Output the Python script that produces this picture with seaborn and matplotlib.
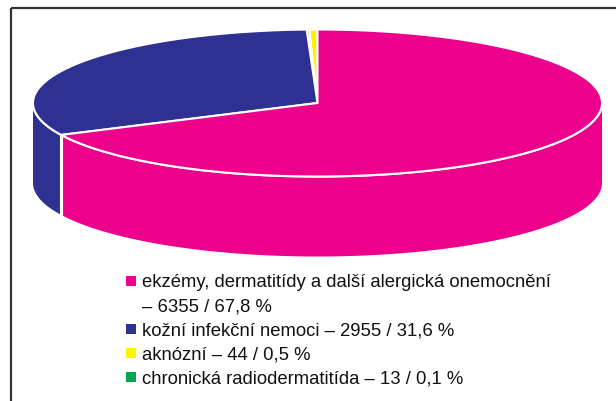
import numpy as np
import matplotlib
matplotlib.use("Agg")
import matplotlib.pyplot as plt
import seaborn as sns
from matplotlib.patches import Polygon

# data
categories = ["ekzémy, dermatitídy a další alergická onemocnění",
              "kožní infekční nemoci",
              "aknózní",
              "chronická radiodermatitída"]
counts = [6355, 2955, 44, 13]
percents = ["67,8", "31,6", "0,5", "0,1"]
colors = ["#EC008C", "#2E3192", "#FFF200", "#00A651"]
# clockwise drawing order of slices starting at 12 o'clock
draw_order = [0, 1, 3, 2]

sns.set_theme(style="white")
plt.rcParams["font.family"] = ["Liberation Sans", "DejaVu Sans"]
pal = sns.color_palette(colors)

W, H = 616, 401
fig = plt.figure(figsize=(W / 100, H / 100), dpi=100)
ax = fig.add_axes([0, 0, 1, 1])
ax.set_xlim(0, W)
ax.set_ylim(H, 0)
ax.axis("off")

# pie geometry (pixels)
cx, cy = 317.5, 103
a, b = 284.5, 73.5
depth = 80


def pt(t, dy=0.0):
    t = np.radians(t)
    return cx + a * np.cos(t), cy - b * np.sin(t) + dy


total = float(sum(counts))
# angles counterclockwise from 90 deg: reverse of the clockwise order
ccw = draw_order[::-1]
spans = {}
start = 90.0
for i in ccw:
    ext = counts[i] / total * 360
    spans[i] = (start, start + ext)
    start += ext

# side walls (front half only: 180..360)
for i in ccw:
    s, e = spans[i]
    for off in (0, 360):
        ws, we = max(s, 180 + off), min(e, 360 + off)
        if we <= ws:
            continue
        ts = np.linspace(ws, we, 200)
        top = [pt(t) for t in ts]
        bot = [pt(t, depth) for t in ts[::-1]]
        ax.add_patch(Polygon(top + bot, closed=True, facecolor=pal[i],
                             edgecolor="none", zorder=1))
        # vertical seams
        for tt in (ws, we):
            if 180 + off < tt < 360 + off:
                x0, y0 = pt(tt)
                ax.plot([x0, x0], [y0, y0 + depth], color="white", lw=2.2, zorder=2)

# white rim along front edge
ts = np.linspace(180, 360, 300)
rim = np.array([pt(t) for t in ts])
ax.plot(rim[:, 0], rim[:, 1], color="white", lw=1.6, zorder=2)

# top face wedges
for i in ccw:
    s, e = spans[i]
    ts = np.linspace(s, e, max(int(e - s) * 3, 4))
    poly = [(cx, cy)] + [pt(t) for t in ts]
    ax.add_patch(Polygon(poly, closed=True, facecolor=pal[i],
                         edgecolor="white", lw=1.5, zorder=3))

# frame
ax.plot([11, W], [8, 8], color="#333333", lw=1.6, zorder=5, solid_capstyle="butt")
ax.plot([11, 11], [8, H], color="#333333", lw=1.6, zorder=5, solid_capstyle="butt")

# legend
lx, tx, ly, step = 130.5, 142, 287, 24
row = 0
for i, name in enumerate(categories):
    y = ly + row * step
    ax.scatter([lx], [y - 6], marker="s", s=44, color=pal[i], zorder=5, linewidths=0)
    if i == 0:
        lines = [name, "– %d / %s %%" % (counts[i], percents[i])]
    else:
        lines = ["%s – %d / %s %%" % (name, counts[i], percents[i])]
    for line in lines:
        ax.text(tx, ly + row * step, line, fontsize=13.3, color="#111111",
                va="baseline", ha="left")
        row += 1

fig.savefig("out.png", dpi=100)
